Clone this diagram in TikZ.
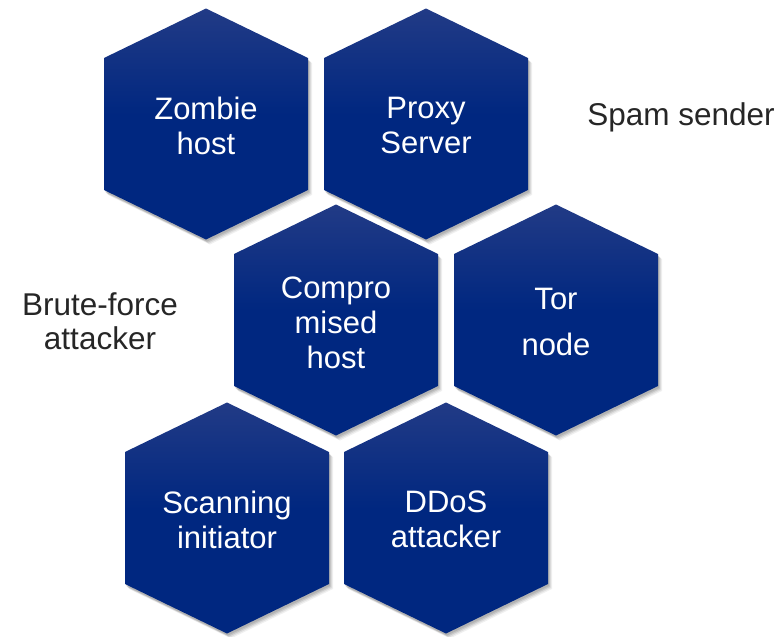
\documentclass[tikz,border=0pt]{standalone}
\usepackage{fontspec}
\setmainfont{Liberation Sans}
\definecolor{hexdark}{RGB}{0,39,128}
\definecolor{hexlight}{RGB}{70,80,140}
\definecolor{labelgray}{RGB}{38,38,38}
\pgfdeclareverticalshading{hexshade}{100bp}{color(0bp)=(hexdark); color(52bp)=(hexdark); color(100bp)=(hexlight)}
\tikzset{
  hextext/.style={text=white, align=center, font=\fontsize{31}{35}\selectfont, inner sep=0pt},
  sidelabel/.style={text=labelgray, align=center, font=\fontsize{31.5}{34}\selectfont, inner sep=0pt},
  pics/hexagon/.style={code={
    \foreach \dx/\dy/\op in {4/5/0.06,3/4/0.08,2/3/0.10,1/2/0.10}{
      \fill[black, opacity=\op] (\dx,-115.5+\dy) -- (102+\dx,-66+\dy) -- (102+\dx,66+\dy) -- (\dx,115.5+\dy) -- (-102+\dx,66+\dy) -- (-102+\dx,-66+\dy) -- cycle;
    }
    \shade[shading=hexshade] (0,-115.5) -- (102,-66) -- (102,66) -- (0,115.5) -- (-102,66) -- (-102,-66) -- cycle;
  }}
}
\begin{document}
\begin{tikzpicture}[x=1pt,y=-1pt]
\useasboundingbox (0,0) rectangle (782,637);
\pic at (206,124) {hexagon};
\pic at (426,124) {hexagon};
\pic at (336,320) {hexagon};
\pic at (556,320) {hexagon};
\pic at (227,518) {hexagon};
\pic at (446,518) {hexagon};
\node[hextext] (zombie) at (206,125.5) {Zombie\\host};
\node[hextext] (proxy) at (426,125.5) {Proxy\\Server};
\node[hextext] (comp) at (336,322.5) {Compro\\mised\\host};
\node[hextext, font=\fontsize{31}{46}\selectfont] (tor) at (556,321.5) {Tor\\node};
\node[hextext] (scan) at (227,519.5) {Scanning\\initiator};
\node[hextext] (ddos) at (446,519.5) {DDoS\\attacker};
\node[sidelabel] (spam) at (681,117) {Spam sender};
\node[sidelabel] (brute) at (100,321) {Brute-force\\attacker};
\end{tikzpicture}
\end{document}
